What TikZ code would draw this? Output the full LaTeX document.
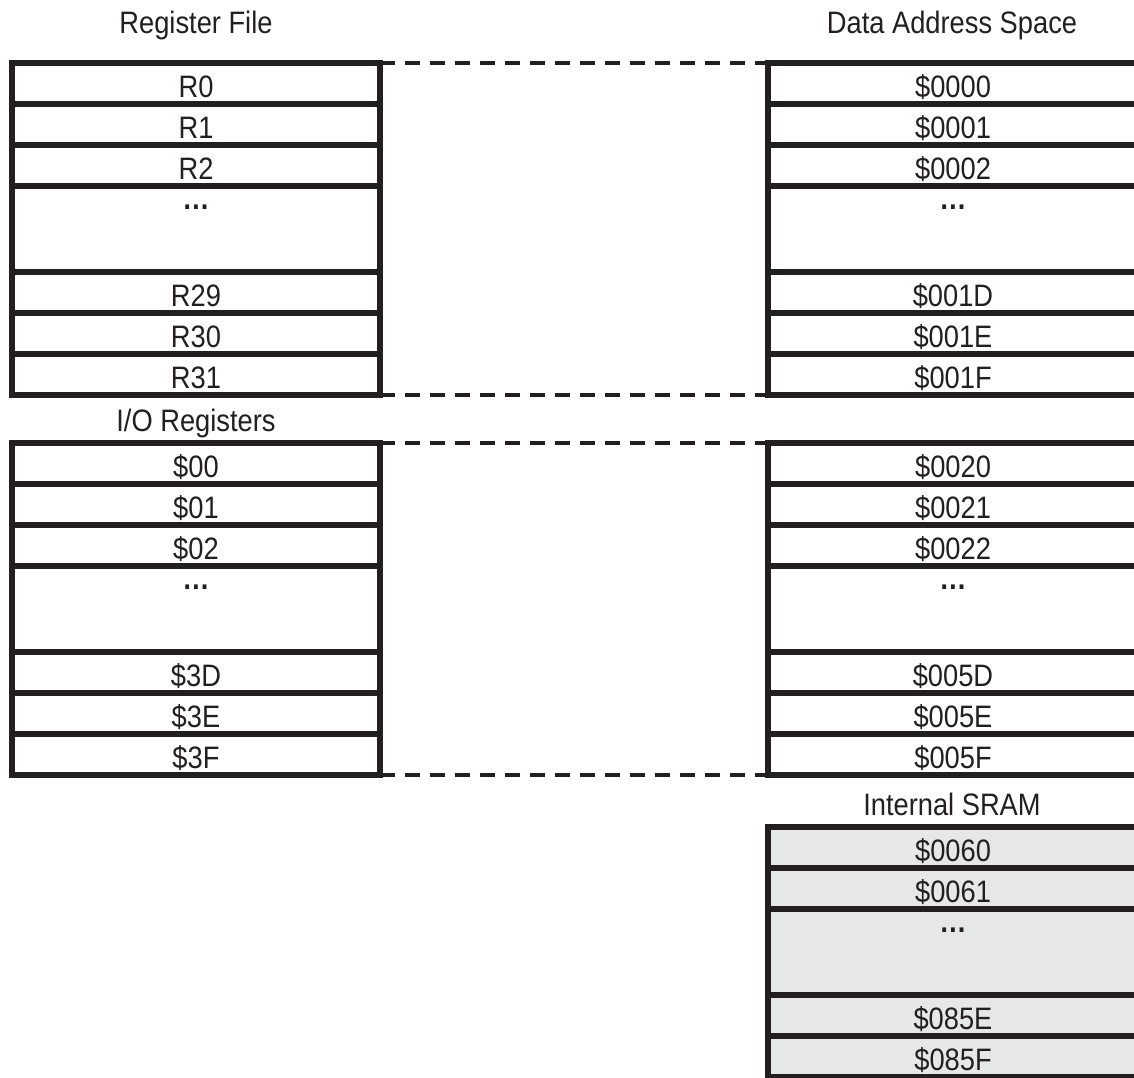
\documentclass[tikz,border=0pt]{standalone}
\usepackage{fontspec}
\setmainfont[FakeStretch=0.88]{Liberation Sans}
\definecolor{ink}{HTML}{231F20}
\definecolor{sramgray}{HTML}{E6E7E9}
\begin{document}
\begin{tikzpicture}[x=1pt,y=-1pt,
  cell/.style={draw=ink, line width=5.5pt, fill=white, minimum width=368pt,
    inner sep=0pt, outer sep=0pt, text height=34pt, text depth=7pt,
    anchor=north west, font=\fontsize{31}{36}\selectfont, text=ink},
  rcell/.style={cell, minimum width=370pt},
  gapcell/.style={text height=23pt, text depth=63pt},
  sram/.style={fill=sramgray},
  title/.style={anchor=base, inner sep=0pt, font=\fontsize{31}{36}\selectfont, text=ink},
  link/.style={draw=ink, line width=4pt, dash pattern=on 15pt off 10pt}]
\useasboundingbox (0,0) rectangle (1134,1077);
\clip (0,0) rectangle (1134,1077);

% titles
\node[title] (tRF) at (196,33) {Register File};
\node[title] (tDAS) at (952,33) {Data Address Space};
\node[title] (tIO) at (196,431) {I/O Registers};
\node[title] (tSR) at (952,815) {Internal SRAM};

% register file
\node[cell] (r0) at (12,63) {R0};
\node[cell] (r1) at (12,104) {R1};
\node[cell] (r2) at (12,145) {R2};
\node[cell,gapcell] (rg) at (12,186) {\textbf{…}};
\node[cell] (r29) at (12,272) {R29};
\node[cell] (r30) at (12,313) {R30};
\node[cell] (r31) at (12,354) {R31};

% I/O registers
\node[cell] (io0) at (12,443) {\$00};
\node[cell] (io1) at (12,484) {\$01};
\node[cell] (io2) at (12,525) {\$02};
\node[cell,gapcell] (iog) at (12,566) {\textbf{…}};
\node[cell] (io3d) at (12,652) {\$3D};
\node[cell] (io3e) at (12,693) {\$3E};
\node[cell] (io3f) at (12,734) {\$3F};

% data address space: register part
\node[rcell] (a00) at (768,63) {\$0000};
\node[rcell] (a01) at (768,104) {\$0001};
\node[rcell] (a02) at (768,145) {\$0002};
\node[rcell,gapcell] (ag1) at (768,186) {\textbf{…}};
\node[rcell] (a1d) at (768,272) {\$001D};
\node[rcell] (a1e) at (768,313) {\$001E};
\node[rcell] (a1f) at (768,354) {\$001F};

% data address space: I/O part
\node[rcell] (a20) at (768,443) {\$0020};
\node[rcell] (a21) at (768,484) {\$0021};
\node[rcell] (a22) at (768,525) {\$0022};
\node[rcell,gapcell] (ag2) at (768,566) {\textbf{…}};
\node[rcell] (a5d) at (768,652) {\$005D};
\node[rcell] (a5e) at (768,693) {\$005E};
\node[rcell] (a5f) at (768,734) {\$005F};

% internal SRAM
\node[rcell,sram] (s60) at (768,827) {\$0060};
\node[rcell,sram] (s61) at (768,868) {\$0061};
\node[rcell,sram,gapcell] (sg) at (768,909) {\textbf{…}};
\node[rcell,sram] (s85e) at (768,995) {\$085E};
\node[rcell,sram] (s85f) at (768,1036) {\$085F};

% dashed mapping lines
\draw[link] (r0.north east) -- (a00.north west);
\draw[link] (r31.south east) -- (a1f.south west);
\draw[link] (io0.north east) -- (a20.north west);
\draw[link] (io3f.south east) -- (a5f.south west);
\end{tikzpicture}
\end{document}
